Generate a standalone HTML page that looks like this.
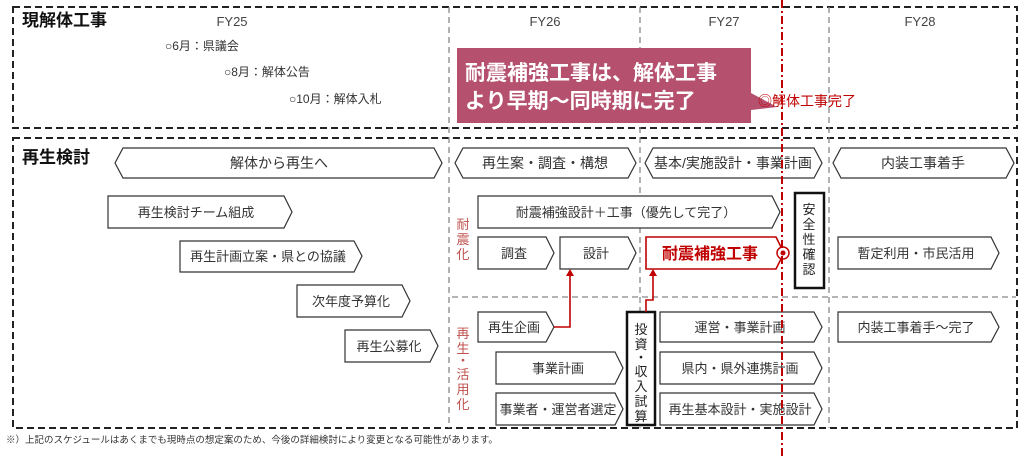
<!DOCTYPE html>
<html><head><meta charset="utf-8"><style>
html,body{margin:0;padding:0;background:#fff;}
svg{display:block;font-family:"Liberation Sans","Noto Sans CJK JP",sans-serif;}
</style></head><body>
<svg width="1024" height="458" viewBox="0 0 1024 458" xmlns="http://www.w3.org/2000/svg">
<g fill="none" stroke="#222" stroke-width="2" stroke-dasharray="7,4">
<rect x="13" y="7" width="1004" height="121"/>
<rect x="13" y="138" width="1004" height="290"/>
</g>
<g stroke="#888" stroke-width="1.3" stroke-dasharray="6,4">
<line x1="449" y1="7" x2="449" y2="428"/>
<line x1="640" y1="7" x2="640" y2="428"/>
<line x1="829" y1="7" x2="829" y2="428"/>
<line x1="452" y1="297" x2="1016" y2="297"/>
</g>
<g font-size="13" fill="#444" text-anchor="middle">
<text x="232" y="26">FY25</text><text x="545" y="26">FY26</text><text x="724" y="26">FY27</text><text x="920" y="26">FY28</text>
</g>
<text x="22" y="26" font-size="17" font-weight="bold" fill="#111">現解体工事</text>
<text x="22" y="163" font-size="17" font-weight="bold" fill="#111">再生検討</text>
<g font-size="12" fill="#333">
<text x="165" y="50">○6月：県議会</text>
<text x="224" y="76">○8月：解体公告</text>
<text x="289" y="103">○10月：解体入札</text>
</g>
<path d="M457,48 H751 V93 L777,107 L751,110 V123 H457 Z" fill="#b5506f"/>
<g font-size="21" font-weight="bold" fill="#fff"><text x="465" y="80">耐震補強工事は、解体工事</text><text x="465" y="108">より早期～同時期に完了</text></g>
<text x="758" y="106" font-size="14" fill="#c00000">◎解体工事完了</text>
<g fill="#fff" stroke="#333" stroke-width="1.2">
<polygon points="123,148 434,148 442,163 434,178 123,178 115,163"/>
<polygon points="463,148 628,148 636,163 628,178 463,178 455,163"/>
<polygon points="653,148 814,148 822,163 814,178 653,178 645,163"/>
<polygon points="841,148 1006,148 1014,163 1006,178 841,178 833,163"/>
<polygon points="108,196 284,196 292,212 284,228 108,228"/>
<polygon points="180,241 354,241 362,256 354,272 180,272"/>
<polygon points="297,285 402,285 410,301 402,317 297,317"/>
<polygon points="345,330 430,330 438,346 430,362 345,362"/>
<polygon points="478,196 772,196 780,212 772,228 478,228"/>
<polygon points="478,237 546,237 554,253 546,269 478,269"/>
<polygon points="560,237 628,237 636,253 628,269 560,269"/>
<polygon points="838,237 991,237 999,253 991,269 838,269"/>
<polygon points="478,312 546,312 554,327 546,342 478,342"/>
<polygon points="496,352 615,352 623,368 615,384 496,384"/>
<polygon points="496,393 615,393 623,409 615,425 496,425"/>
<polygon points="660,312 814,312 822,327 814,342 660,342"/>
<polygon points="660,352 814,352 822,368 814,384 660,384"/>
<polygon points="660,393 814,393 822,409 814,425 660,425"/>
<polygon points="838,312 991,312 999,327 991,342 838,342"/>
</g>
<polygon points="646,237 776,237 784,253 776,269 646,269" fill="#fff" stroke="#c00000" stroke-width="1.6"/>
<g fill="#fff" stroke="#111" stroke-width="2.5"><rect x="795" y="193" width="29" height="95"/><rect x="627" y="312" width="28" height="113"/></g>
<g font-size="13" fill="#333" text-anchor="middle">
<text x="279" y="168" font-size="14">解体から再生へ</text>
<text x="545" y="168" font-size="14">再生案・調査・構想</text>
<text x="733" y="168" font-size="14">基本/実施設計・事業計画</text>
<text x="923" y="168" font-size="14">内装工事着手</text>
<text x="196" y="217">再生検討チーム組成</text>
<text x="268" y="261">再生計画立案・県との協議</text>
<text x="351" y="306">次年度予算化</text>
<text x="389" y="351">再生公募化</text>
<text x="626" y="217">耐震補強設計＋工事（優先して完了）</text>
<text x="514" y="258">調査</text>
<text x="596" y="258">設計</text>
<text x="916" y="258">暫定利用・市民活用</text>
<text x="514" y="332">再生企画</text>
<text x="558" y="373">事業計画</text>
<text x="558" y="414">事業者・運営者選定</text>
<text x="740" y="332">運営・事業計画</text>
<text x="740" y="373">県内・県外連携計画</text>
<text x="740" y="414">再生基本設計・実施設計</text>
<text x="916" y="332">内装工事着手～完了</text>
</g>
<text x="710" y="259" font-size="16" font-weight="bold" fill="#c00000" text-anchor="middle">耐震補強工事</text>
<g font-size="13" fill="#222" text-anchor="middle">
<text x="809" y="214">安</text><text x="809" y="229">全</text><text x="809" y="244">性</text><text x="809" y="259">確</text><text x="809" y="274">認</text>
<text x="641" y="334">投</text><text x="641" y="349">資</text><text x="641" y="362">・</text><text x="641" y="376">収</text><text x="641" y="391">入</text><text x="641" y="406">試</text><text x="641" y="421">算</text>
</g>
<g font-size="13" fill="#c0504d" text-anchor="middle">
<text x="463" y="229">耐</text><text x="463" y="244">震</text><text x="463" y="259">化</text>
<text x="463" y="338">再</text><text x="463" y="353">生</text><text x="463" y="365">・</text><text x="463" y="379">活</text><text x="463" y="394">用</text><text x="463" y="409">化</text>
</g>
<g stroke="#c00000" stroke-width="1.6" fill="none">
<polyline points="554,327 570,327 570,275"/>
<polyline points="646,312 646,300 653,300 653,275"/>
</g>
<g fill="#c00000"><polygon points="566,276 574,276 570,269"/><polygon points="649,276 657,276 653,269"/></g>
<circle cx="783" cy="253" r="6" fill="#fff" stroke="#c00000" stroke-width="1.5"/>
<circle cx="783" cy="253" r="2.5" fill="#c00000"/>
<line x1="782" y1="0" x2="782" y2="458" stroke="#c00000" stroke-width="2" stroke-dasharray="8,3,2,3"/>
<text x="6" y="443" font-size="9.5" fill="#333">※）上記のスケジュールはあくまでも現時点の想定案のため、今後の詳細検討により変更となる可能性があります。</text>
</svg>
</body></html>
